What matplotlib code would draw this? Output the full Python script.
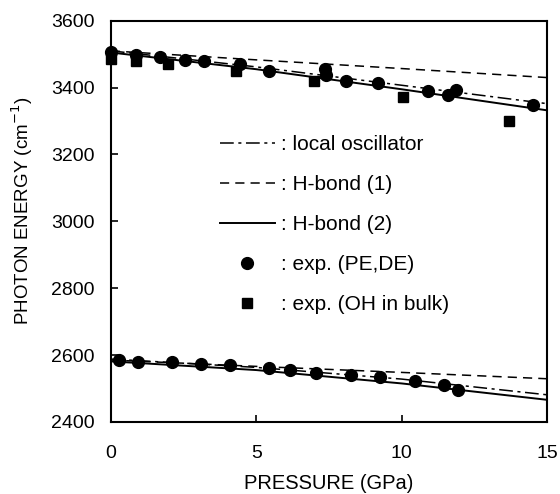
import matplotlib
matplotlib.use("Agg")
import matplotlib.pyplot as plt
from matplotlib.lines import Line2D

plt.rcParams['font.family'] = ['Liberation Sans', 'DejaVu Sans']

# model curves (pressure in GPa, energy in cm^-1)
p_model = [0, 5, 10, 15]
local_hi = [3510, 3462, 3407, 3352]
hb1_hi = [3510, 3483, 3457, 3430]
hb2_hi = [3505, 3455, 3395, 3332]
local_lo = [2588, 2563, 2528, 2481]
hb1_lo = [2585, 2566, 2548, 2529]
hb2_lo = [2581, 2555, 2515, 2466]

# exp. (PE,DE)
p_pe_hi = [0.0, 0.85, 1.7, 2.55, 3.2, 4.45, 5.45, 7.35, 7.4, 8.1, 9.2, 10.9, 11.6, 11.85, 14.5]
e_pe_hi = [3507, 3497, 3491, 3484, 3479, 3472, 3451, 3456, 3437, 3421, 3414, 3391, 3379, 3392, 3349]
p_pe_lo = [0.27, 0.94, 2.1, 3.1, 4.1, 5.45, 6.15, 7.05, 8.25, 9.25, 10.45, 11.45, 11.95]
e_pe_lo = [2584, 2579, 2579, 2574, 2571, 2560, 2554, 2547, 2541, 2533, 2522, 2510, 2494]

# exp. (OH in bulk)
p_oh = [0.0, 0.86, 1.95, 4.3, 7.0, 10.05, 13.7]
e_oh = [3487, 3480, 3470, 3451, 3421, 3372, 3300]

fig = plt.figure(figsize=(5.6, 4.94), dpi=100)
ax = fig.add_axes([0.198, 0.146, 0.779, 0.812])

dashdot = (0, (9, 3, 2, 3))
dashed = (0, (6, 4))
for lo_hi in (local_hi, local_lo):
    ax.plot(p_model, lo_hi, color='black', lw=1.1, linestyle=dashdot)
for d in (hb1_hi, hb1_lo):
    ax.plot(p_model, d, color='black', lw=1.1, linestyle=dashed)
for s in (hb2_hi, hb2_lo):
    ax.plot(p_model, s, color='black', lw=1.4, linestyle='-')

ax.plot(p_pe_hi, e_pe_hi, 'o', color='black', ms=8.5, clip_on=False)
ax.plot(p_pe_lo, e_pe_lo, 'o', color='black', ms=8.5, clip_on=False)
ax.plot(p_oh, e_oh, 's', color='black', ms=7.5, clip_on=False)

ax.set_xlim(0, 15)
ax.set_ylim(2400, 3600)
ax.set_xticks([0, 5, 10, 15])
ax.set_yticks(range(2400, 3601, 200))
ax.tick_params(direction='in', length=5, width=1.2, labelsize=14,
               top=False, right=False)
ax.tick_params(axis='x', pad=17)
ax.tick_params(axis='y', pad=11.5)
for sp in ax.spines.values():
    sp.set_linewidth(1.5)

ax.set_xlabel('PRESSURE (GPa)', fontsize=14.5)
ax.xaxis.set_label_coords(0.5, -0.13)
ax.set_ylabel('PHOTON ENERGY (cm$^{-1}$)', fontsize=13.5)
ax.yaxis.set_label_coords(-0.174, 0.526)

handles = [
    Line2D([], [], color='black', lw=1.1, linestyle=dashdot),
    Line2D([], [], color='black', lw=1.1, linestyle=dashed),
    Line2D([], [], color='black', lw=1.4),
    Line2D([], [], color='black', marker='o', ms=8.5, linestyle='none'),
    Line2D([], [], color='black', marker='s', ms=7.5, linestyle='none'),
]
labels = [': local oscillator', ': H-bond (1)', ': H-bond (2)',
          ': exp. (PE,DE)', ': exp. (OH in bulk)']
ax.legend(handles, labels, frameon=False, fontsize=15, handlelength=2.65,
          handletextpad=0.3, labelspacing=1.0, loc='upper left',
          bbox_to_anchor=(0.249, 0.714), borderpad=0, borderaxespad=0)

fig.savefig('out.png', dpi=100)
